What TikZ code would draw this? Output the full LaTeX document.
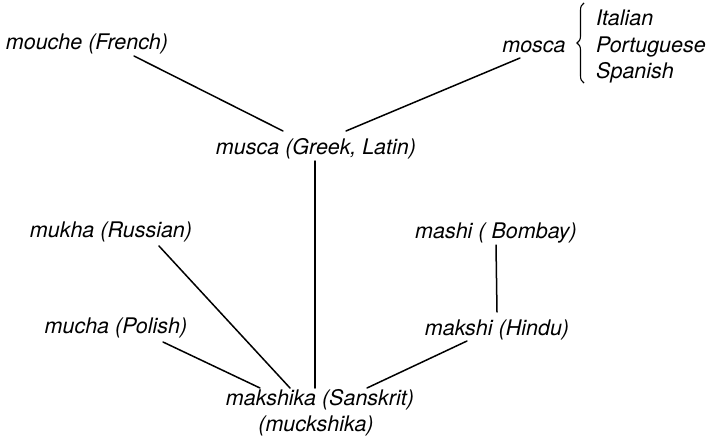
\documentclass[tikz,border=0pt]{standalone}
\usepackage{fontspec}
\setmainfont{TeX Gyre Heros}
\usetikzlibrary{calc,decorations.pathreplacing}
\begin{document}
\begin{tikzpicture}[x=1pt,y=-1pt,
  word/.style={font=\fontsize{21.5}{26}\selectfont\itshape, inner sep=0pt, anchor=base},
  lang/.style={word, anchor=base west},
  link/.style={line width=1.5pt, line cap=round}]
\useasboundingbox (0,0) rectangle (707,442);

% words
\node[word] (mouche) at (87,49) {mouche (French)};
\node[word] (mosca) at (534,52) {mosca};
\node[lang] (italian) at (596,25) {Italian};
\node[lang] (portuguese) at (596,52) {Portuguese};
\node[lang] (spanish) at (596,78) {Spanish};
\node[word] (musca) at (316,154) {musca (Greek, Latin)};
\node[word] (mukha) at (111,237) {mukha (Russian)};
\node[word] (mashi) at (496,238) {mashi ( Bombay)};
\node[word] (mucha) at (116,333) {mucha (Polish)};
\node[word] (makshi) at (497,335) {makshi (Hindu)};
\node[word] (makshika) at (320,405) {makshika (Sanskrit)};
\node[word] (muckshika) at (316,431) {(muckshika)};

% brace grouping the Romance languages
\draw[line width=1.1pt, decorate, decoration={brace, amplitude=7pt}]
  ($(spanish.base west)+(-12,5)$) -- ($(italian.base west)+(-12,-22)$);

% connectors
\draw[link] ($(mouche.base)+(47,7)$) -- ($(musca.base)+(-33,-23)$);
\draw[link] ($(mosca.base)+(-14,6)$) -- ($(musca.base)+(30,-23)$);
\draw[link] ($(musca.base)+(-1,7)$) -- ($(makshika.base)+(-5,-17)$);
\draw[link] ($(mukha.base)+(48,9)$) -- ($(makshika.base)+(-30,-17)$);
\draw[link] ($(mucha.base)+(47,9)$) -- ($(makshika.base)+(-60,-17)$);
\draw[link] ($(mashi.base)+(0,7)$) -- ($(makshi.base)+(0,-23)$);
\draw[link] ($(makshi.base)+(-30,6)$) -- ($(makshika.base)+(47,-17)$);
\end{tikzpicture}
\end{document}
